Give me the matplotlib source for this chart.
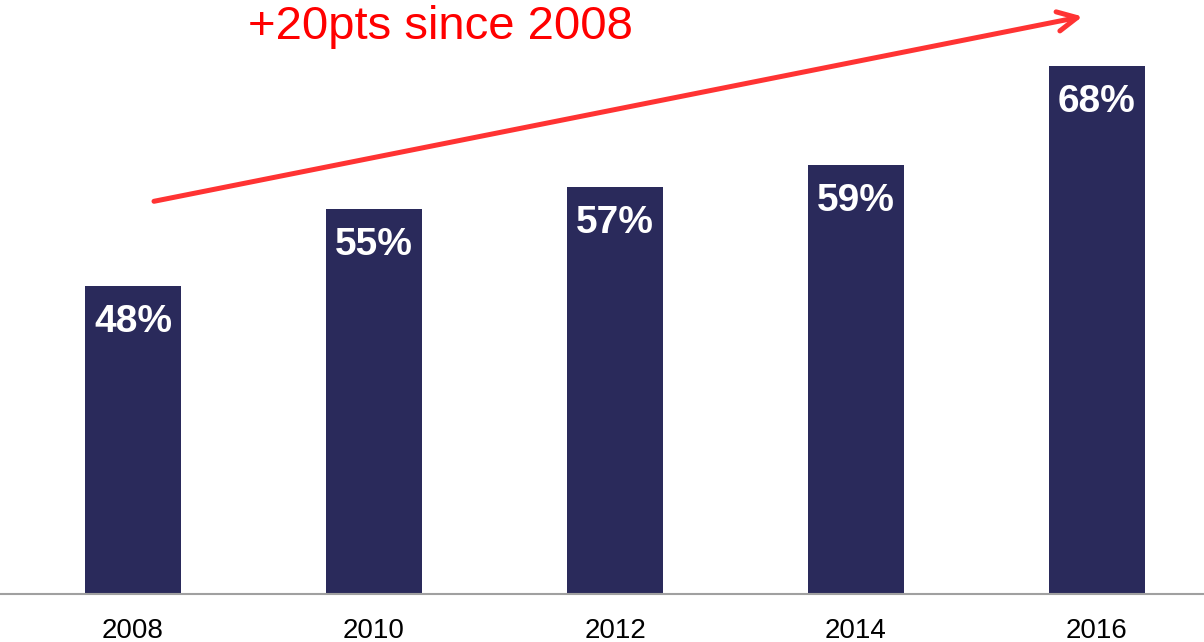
import matplotlib.pyplot as plt

years = ["2008", "2010", "2012", "2014", "2016"]
shares = [48, 55, 57, 59, 68]
labels = ["48%", "55%", "57%", "59%", "68%"]
headline = "+20pts since 2008"

bar_color = "#2a2a5b"
arrow_color = "#ff3333"

plt.rcParams["font.family"] = ["Liberation Sans", "DejaVu Sans"]

fig = plt.figure(figsize=(12.04, 6.42), dpi=100)
ax = fig.add_axes([0, 48 / 642, 1, 1 - 48 / 642])

x = list(range(len(years)))
ax.bar(x, shares, width=0.4, color=bar_color, bottom=0)

for xi, val, lab in zip(x, shares, labels):
    ax.annotate(lab, xy=(xi, val), xytext=(0, -13), textcoords="offset points",
                ha="center", va="top", color="white", fontsize=28,
                fontweight="bold")

ax.set_xlim(-0.552, 4.444)
ax.set_ylim(20, 74)
ax.set_xticks(x)
ax.set_xticklabels(years, fontsize=20)
ax.tick_params(axis="x", length=0, pad=17)
ax.set_yticks([])
for side in ["top", "right", "left"]:
    ax.spines[side].set_visible(False)
ax.spines["bottom"].set_color("#a0a0a0")
ax.spines["bottom"].set_linewidth(1.5)

# trend arrow from first bar to the top right
ax.annotate("", xy=(3.94, 72.5), xytext=(0.087, 55.7),
            arrowprops=dict(arrowstyle="->,head_length=0.7,head_width=0.35",
                            color=arrow_color, lw=3.6, mutation_scale=20,
                            shrinkA=0, shrinkB=0),
            annotation_clip=False)

fig.text(248 / 1204, 1 - 39 / 642, headline, color="#ff0000", fontsize=34,
         ha="left", va="baseline")

fig.savefig("out.png", dpi=100)
